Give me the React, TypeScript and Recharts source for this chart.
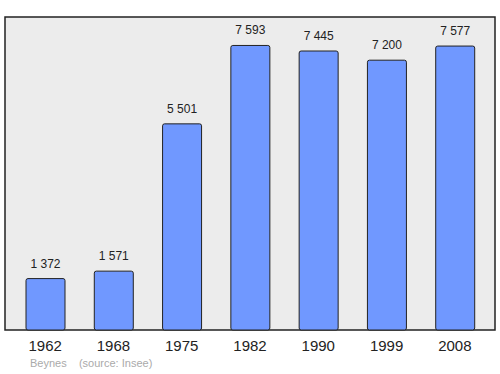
import { BarChart, Bar, XAxis, YAxis, CartesianGrid, LabelList, usePlotArea } from 'recharts';

// Population of Beynes by census year
const years = ['1962', '1968', '1975', '1982', '1990', '1999', '2008'];
const population = [1372, 1571, 5501, 7593, 7445, 7200, 7577];

const data = years.map((year, i) => ({ year, pop: population[i] }));

const FONT = '"Liberation Sans", Arial, sans-serif';
const yMax = Math.max(...population) * 1.1;

// thousands separated by a non-breaking space so the label doesn't wrap
const fmt = (v: number) => String(v).replace(/\B(?=(\d{3})+(?!\d))/g, '\u00a0');

function Frame() {
  const area = usePlotArea();
  if (!area) return null;
  return (
    <rect
      x={area.x}
      y={area.y}
      width={area.width}
      height={area.height}
      fill="none"
      stroke="#222"
      strokeWidth={1.5}
    />
  );
}

export default function App() {
  return (
    <div style={{ position: 'absolute', left: 0, top: 0, width: 500, height: 374, fontFamily: FONT }}>
      <BarChart
        width={500}
        height={374}
        data={data}
        margin={{ top: 17, right: 5, bottom: 14, left: 5 }}
        barSize={39}
      >
        <CartesianGrid horizontal={false} vertical={false} fill="#ececec" />
        <XAxis
          dataKey="year"
          height={30}
          padding={{ left: 6, right: 6 }}
          tickLine={false}
          tickMargin={4}
          axisLine={false}
          tick={{ fontSize: 15, fill: '#222', fontFamily: FONT }}
        />
        <YAxis width={0} domain={[0, yMax]} tick={false} tickLine={false} axisLine={false} />
        <Bar dataKey="pop" fill="#7098ff" stroke="#222" strokeWidth={1} radius={2} isAnimationActive={false}>
          <LabelList
            dataKey="pop"
            position="top"
            offset={11}
            formatter={(v: number) => fmt(v)}
            style={{ fontSize: 12, fill: '#222', fontFamily: FONT }}
          />
        </Bar>
        <Frame />
      </BarChart>
      <div style={{ position: 'absolute', left: 30, top: 357, fontSize: 11, color: '#aaa', whiteSpace: 'pre' }}>
        Beynes{'    '}(source: Insee)
      </div>
    </div>
  );
}
